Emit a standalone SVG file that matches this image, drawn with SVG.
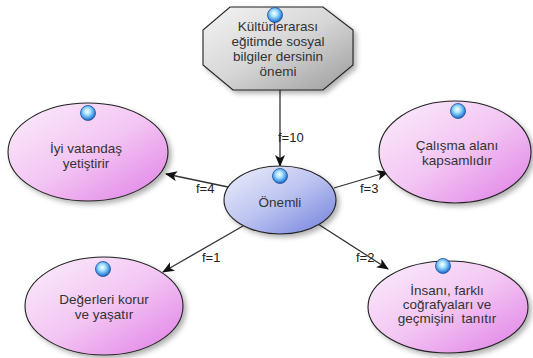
<svg xmlns="http://www.w3.org/2000/svg" width="533" height="358" viewBox="0 0 533 358">
<defs>
<linearGradient id="gPink" x1="0" y1="0" x2="1" y2="1">
<stop offset="0" stop-color="#fbeefb"/>
<stop offset="0.5" stop-color="#f3c6f3"/>
<stop offset="1" stop-color="#e07ee6"/>
</linearGradient>
<linearGradient id="gBlue" x1="0" y1="0" x2="1" y2="1">
<stop offset="0" stop-color="#eef0fb"/>
<stop offset="0.5" stop-color="#bcc3f0"/>
<stop offset="1" stop-color="#6f7fdc"/>
</linearGradient>
<linearGradient id="gGrey" x1="0" y1="0" x2="1" y2="1">
<stop offset="0" stop-color="#f4f4f4"/>
<stop offset="0.5" stop-color="#d6d6d6"/>
<stop offset="1" stop-color="#9c9c9c"/>
</linearGradient>
<radialGradient id="gBall" cx="0.45" cy="0.4" r="0.6">
<stop offset="0" stop-color="#ffffff"/>
<stop offset="0.35" stop-color="#a8e4ff"/>
<stop offset="0.8" stop-color="#3d8fe0"/>
<stop offset="1" stop-color="#1f5fb8"/>
</radialGradient>
<filter id="sh" x="-20%" y="-20%" width="150%" height="150%">
<feDropShadow dx="3" dy="3" stdDeviation="2.5" flood-color="#000" flood-opacity="0.3"/>
</filter>
<marker id="arr" viewBox="0 0 12 10" refX="11" refY="5" markerWidth="12" markerHeight="10" markerUnits="userSpaceOnUse" orient="auto">
<path d="M0,0 L12,5 L0,10 L3,5 Z" fill="#111"/>
</marker>
<g id="ball">
<circle r="7.5" fill="url(#gBall)" stroke="#1d4f9c" stroke-width="0.8"/>
</g>
</defs>
<style>
.t{font-family:"Liberation Sans",Arial,sans-serif;font-size:13.5px;fill:#333;text-anchor:middle}
.l{font-family:"Liberation Sans",Arial,sans-serif;font-size:13px;fill:#222}
.e{stroke:#222;stroke-width:1.1}
.c{stroke:#333;stroke-width:1.3;fill:none;marker-end:url(#arr)}
</style>
<g id="connectors">
<line class="c" x1="280" y1="90" x2="280" y2="166"/>
<line class="c" x1="228" y1="187" x2="166" y2="174"/>
<line class="c" x1="334" y1="188" x2="388" y2="172"/>
<line class="c" x1="243" y1="226" x2="163" y2="272"/>
<line class="c" x1="318" y1="224" x2="388" y2="269"/>
<text class="l" x="278" y="142">f=10</text>
<text class="l" x="196" y="193">f=4</text>
<text class="l" x="360" y="193">f=3</text>
<text class="l" x="202" y="262">f=1</text>
<text class="l" x="356" y="262">f=2</text>
</g>
<g id="n_top">
<polygon class="e" points="230,7 323,7 353,30 353,65 323,90 233,90 203,65 203,30" fill="url(#gGrey)" filter="url(#sh)"/>
<use href="#ball" x="275" y="15"/>
<text class="t" x="278" y="31">Kültürlerarası</text>
<text class="t" x="278" y="46">eğitimde sosyal</text>
<text class="t" x="278" y="61">bilgiler dersinin</text>
<text class="t" x="278" y="76">önemi</text>
</g>
<g id="n_onemli">
<ellipse class="e" cx="280" cy="200" rx="56" ry="34" fill="url(#gBlue)" filter="url(#sh)"/>
<use href="#ball" x="280" y="176"/>
<text class="t" x="280" y="207">Önemli</text>
</g>
<g id="n_iyi">
<ellipse class="e" cx="88" cy="152" rx="80" ry="49" fill="url(#gPink)" filter="url(#sh)"/>
<use href="#ball" x="88" y="113"/>
<text class="t" x="86" y="153">İyi vatandaş</text>
<text class="t" x="86" y="168">yetiştirir</text>
</g>
<g id="n_calisma">
<ellipse class="e" cx="455" cy="152" rx="76" ry="51" fill="url(#gPink)" filter="url(#sh)"/>
<use href="#ball" x="458" y="111"/>
<text class="t" x="457" y="150">Çalışma alanı</text>
<text class="t" x="457" y="165">kapsamlıdır</text>
</g>
<g id="n_degerler">
<ellipse class="e" cx="104" cy="306" rx="79" ry="49" fill="url(#gPink)" filter="url(#sh)"/>
<use href="#ball" x="103" y="269"/>
<text class="t" x="104" y="304">Değerleri korur</text>
<text class="t" x="104" y="319">ve yaşatır</text>
</g>
<g id="n_insani">
<ellipse class="e" cx="448" cy="307" rx="80" ry="46" fill="url(#gPink)" filter="url(#sh)"/>
<use href="#ball" x="443" y="266"/>
<text class="t" x="447" y="295">İnsanı, farklı</text>
<text class="t" x="447" y="309">coğrafyaları ve</text>
<text class="t" x="447" y="323" xml:space="preserve">geçmişini  tanıtır</text>
</g>
</svg>
